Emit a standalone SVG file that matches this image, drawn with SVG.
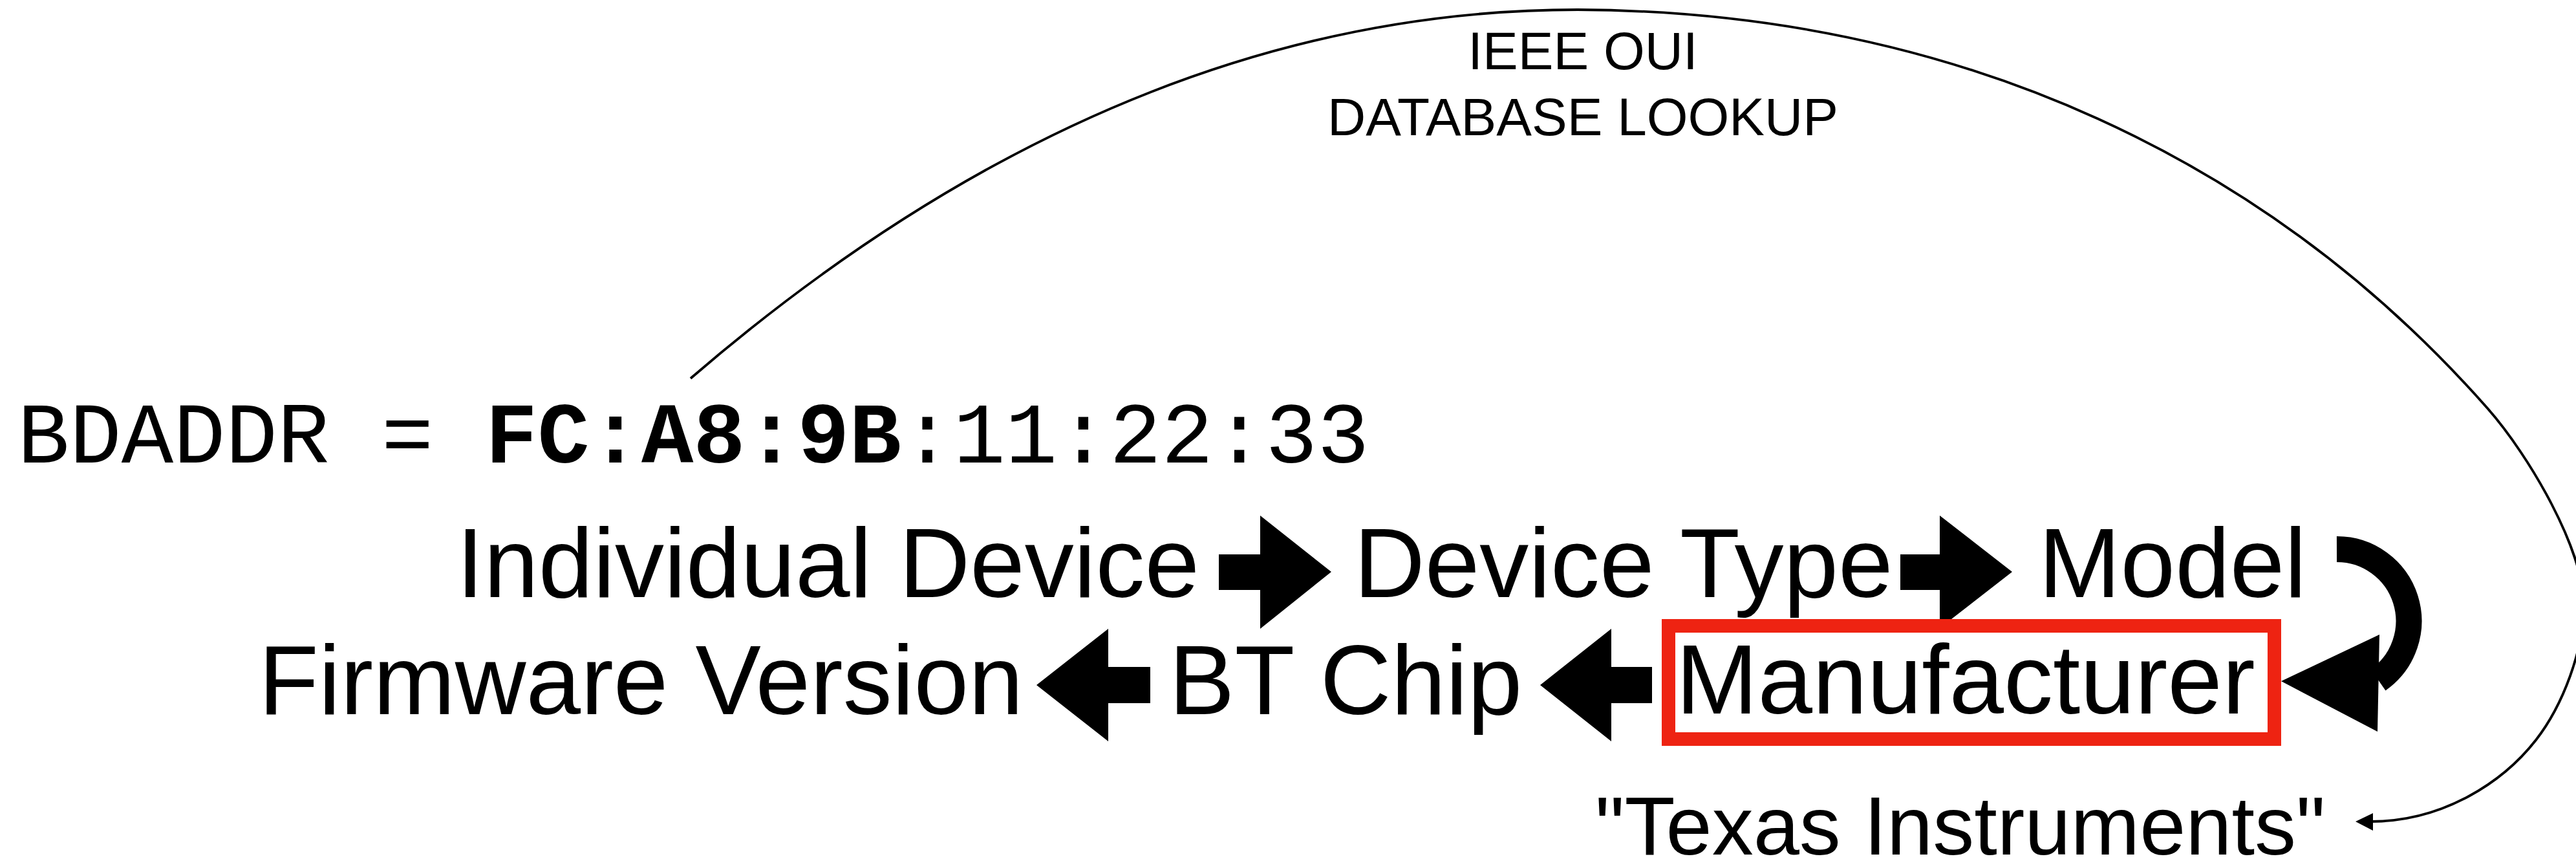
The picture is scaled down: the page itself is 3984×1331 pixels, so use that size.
<svg xmlns="http://www.w3.org/2000/svg" width="3984" height="1331" viewBox="0 0 3984 1331">
<style>
.big{font-family:"Liberation Sans",Arial,Helvetica,sans-serif;font-size:152px;fill:#000}
.lbl{font-family:"Liberation Sans",Arial,Helvetica,sans-serif;font-size:82px;fill:#000;text-anchor:middle}
.mono{font-family:"Liberation Mono","Courier New",monospace;font-size:134px;fill:#000}
.blk{fill:#000;stroke:none}
.thin{fill:none;stroke:#000;stroke-width:3.8}
</style>
<rect width="3984" height="1331" fill="#fff"/>
<g id="connectors">
  <path class="thin" d="M1068,585 C1485,226 1940,15 2440,15 C3040,18 3516,256 3847,631 C3913,706 3996,850 3996,935 C3996,1005 3964,1090 3922,1144 C3872,1208 3780,1270 3666,1270"/>
  <polygon class="blk" points="3643,1270 3670,1257 3670,1284"/>
  <polygon class="blk" points="1885,857 1949,857 1949,797 2059,884 1949,972 1949,912 1885,912"/>
  <polygon class="blk" points="2939,857 3000,857 3000,797 3112,884 3000,971 3000,912 2939,912"/>
  <path d="M3614,849 A111,111 0 0 1 3678,1051" fill="none" stroke="#000" stroke-width="40"/>
  <polygon class="blk" points="3528,1053 3680,981 3677,1131"/>
  <polygon class="blk" points="2555,1031 2492,1031 2492,972 2382,1059 2492,1146 2492,1087 2555,1087"/>
  <polygon class="blk" points="1779,1031 1714,1031 1714,972 1603,1059 1714,1146 1714,1087 1779,1087"/>
</g>
<g id="oui-label">
  <text class="lbl" x="2448" y="107">IEEE OUI</text>
  <text class="lbl" x="2448" y="209">DATABASE LOOKUP</text>
</g>
<g id="bdaddr">
  <text class="mono" x="27" y="715">BDADDR = <tspan font-weight="bold">FC:A8:9B</tspan>:11:22:33</text>
</g>
<g id="individual-device"><text class="big" x="706" y="923">Individual Device</text></g>
<g id="device-type"><text class="big" x="2094" y="923">Device Type</text></g>
<g id="model"><text class="big" x="3153" y="923">Model</text></g>
<g id="manufacturer">
  <rect x="2580.5" y="967.5" width="937" height="175" fill="none" stroke="#EE2312" stroke-width="21"/>
  <text class="big" x="2592" y="1103">Manufacturer</text>
</g>
<g id="bt-chip"><text class="big" x="1808" y="1104">BT Chip</text></g>
<g id="firmware-version"><text class="big" x="400" y="1104">Firmware Version</text></g>
<g id="texas-instruments"><text class="big" style="font-size:128px" x="2467" y="1321">"Texas Instruments"</text></g>
</svg>
